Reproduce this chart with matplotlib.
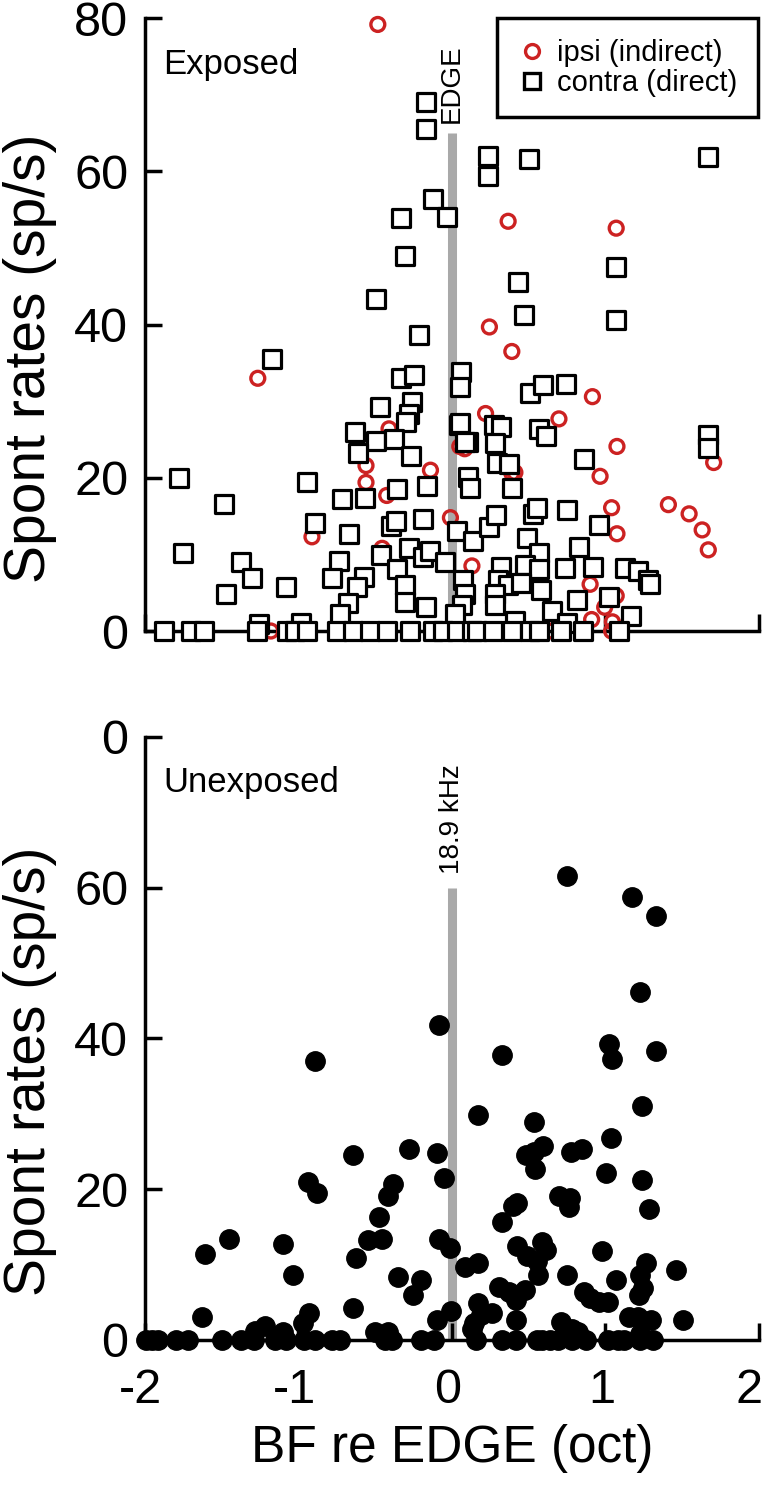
import numpy as np
import matplotlib
matplotlib.use('Agg')
import matplotlib.pyplot as plt
import matplotlib.transforms as mtransforms
from matplotlib.lines import Line2D

plt.rcParams['font.family'] = ['Liberation Sans', 'DejaVu Sans']

RED = '#cc2222'
GRAY = '#a9a9a9'

# ---- Exposed: contra (direct) units, squares
contra_x = [-0.167, -0.167, 0.232, 0.232, 0.502, 1.67, -0.122, -0.035, -0.335, -0.303,
            -0.496, 0.429, 0.468, 1.07, 1.07, -0.212, -1.175, -0.335, -0.245, 0.058,
            0.051, 0.507, 0.595, 0.741, -0.468, -0.26, -0.283, -0.30, -0.63, -0.495,
            -0.38, -0.265, -0.61, 0.044, 0.273, 0.107, 0.322, 0.283, 0.293, 0.371,
            0.566, 0.614, 0.86, 1.67, 1.67, 0.107, 0.117, -0.16, -0.358, 0.39,
            -1.777, -1.487, -0.943, -0.715, -0.567, -0.895, -0.673, -0.399, -0.367, -0.19,
            0.034, 0.138, 0.239, 0.286, 0.527, 0.556, 0.751, 0.955, 0.83, 0.488,
            0.566, 0.478, 0.566, 0.736, 0.92, 1.13, 1.215, 1.275, 1.29, -1.751,
            -1.372, -1.301, -1.475, -1.082, -0.734, -0.779, -0.576, -0.618, -0.676, -0.728,
            -0.464, -0.361, -0.283, -0.309, -0.309, -0.19, -0.167, -0.142, -0.045, 0.075,
            0.088, 0.066, 0.019, 0.322, 0.297, 0.366, 0.449, 0.283, 0.278, 0.41,
            0.58, 0.653, 0.815, 1.025, 1.165, 0.751, -0.985, -1.256, 0.088, 0.051]
contra_y = [69.1, 65.6, 62.0, 59.4, 61.6, 61.9, 56.4, 54.1, 53.9, 49.0,
            43.3, 45.6, 41.3, 47.5, 40.6, 38.7, 35.5, 33.0, 33.4, 33.8,
            31.8, 31.1, 32.1, 32.2, 29.3, 29.9, 28.3, 27.3, 26.0, 24.8,
            25.1, 22.9, 23.2, 26.9, 26.9, 24.7, 26.7, 24.5, 21.9, 21.8,
            26.4, 25.4, 22.4, 25.6, 23.9, 20.1, 18.7, 19.0, 18.5, 18.7,
            20.0, 16.6, 19.4, 17.2, 17.4, 14.1, 12.7, 13.7, 14.3, 14.6,
            13.0, 11.8, 13.6, 15.1, 15.3, 16.0, 15.8, 13.9, 11.0, 12.1,
            10.2, 8.6, 8.1, 8.2, 8.3, 8.2, 7.9, 6.6, 6.1, 10.2,
            9.0, 6.9, 4.8, 5.8, 9.2, 6.9, 7.0, 5.7, 3.7, 2.2,
            9.9, 8.1, 10.8, 6.0, 3.8, 9.7, 3.2, 10.4, 9.0, 6.7,
            4.8, 3.4, 2.2, 8.3, 6.7, 6.0, 6.3, 4.8, 3.4, 1.3,
            5.3, 2.6, 4.0, 4.4, 2.0, 1.1, 1.1, 0.9, 24.7, 27.1]
contra0_x = [-1.874, -1.70, -1.613, -1.272, -1.077, -1.023, -0.947, -0.747, -0.643, -0.534,
             -0.425, -0.274, -0.121, -0.056, 0.03, 0.132, 0.166, 0.27, 0.39, 0.507,
             0.566, 0.71, 0.855, 1.09]

# ---- Exposed: ipsi (indirect) units, circles
ipsi_x = [-0.483, 0.366, 1.07, 0.244, 0.39, -1.265, 0.915, 0.219, 0.697, -0.41,
          0.083, 1.075, 1.705, -0.56, -0.56, -0.14, 0.41, 0.965, -0.425, 1.41,
          1.545, 1.63, 1.67, 1.04, 1.075, -0.01, -0.912, -0.455, 0.13, 0.90,
          1.07, 0.995, 0.91, 1.045, 1.04, 0.65, -1.18, 0.551, 0.051, 0.39]
ipsi_y = [79.2, 53.5, 52.6, 39.7, 36.5, 33.0, 30.6, 28.4, 27.7, 26.4,
          23.8, 24.1, 22.0, 21.6, 19.4, 21.0, 20.7, 20.2, 17.7, 16.5,
          15.3, 13.2, 10.6, 16.1, 12.7, 14.8, 12.3, 10.8, 8.5, 6.1,
          4.6, 3.1, 1.5, 1.2, 0.0, 0.0, 0.0, 6.0, 24.1, 20.6]

# ---- Unexposed units, filled circles
unexp_x = [0.747, 1.171, 1.328, 1.228, -0.084, 1.024, 1.045, 1.328, 0.324, -0.889,
           1.237, 0.170, 0.537, 1.033, -0.283, -0.647, -0.10, 0.481, 0.537, 0.594,
           0.778, 0.844, 0.543, 1.001, -0.052, -0.94, -0.876, -0.383, -0.415, 1.237,
           0.700, 0.772, 0.762, 0.396, 0.427, 1.284, -0.473, 0.324, -1.452, -1.607,
           -1.101, -0.544, -0.457, -0.084, -0.013, 0.427, 0.489, 0.553, 0.584, 0.615,
           0.976, -0.625, 0.088, 0.167, 1.266, 1.457, -1.033, -0.354, -0.20, 0.559,
           0.750, 1.228, 1.071, 1.243, 0.308, 0.477, 0.860, 0.898, 0.955, 1.017,
           1.218, 0.371, 0.417, -0.254, -0.647, 0.167, -0.006, 0.263, 0.191, -0.93,
           -1.629, 0.417, -0.10, 0.144, 0.710, 1.155, 1.212, 1.300, 1.503, -0.972,
           -1.22, -1.285, -1.101, -0.502, -0.415, 0.129, 0.782, 1.228, 0.819]
unexp_y = [61.6, 58.8, 56.3, 46.1, 41.8, 39.3, 37.3, 38.4, 37.8, 37.0,
           31.1, 29.9, 28.9, 26.8, 25.3, 24.5, 24.8, 24.5, 25.0, 25.7,
           24.9, 25.3, 22.7, 22.2, 21.5, 20.9, 19.5, 20.7, 19.1, 21.2,
           19.1, 18.8, 17.6, 17.8, 18.2, 17.4, 16.3, 15.6, 13.4, 11.4,
           12.7, 13.2, 13.4, 13.4, 12.2, 12.5, 11.2, 10.5, 13.0, 12.0,
           11.8, 10.9, 9.7, 10.2, 10.2, 9.3, 8.6, 8.4, 7.9, 8.6,
           8.6, 8.6, 7.9, 6.9, 7.0, 6.6, 6.4, 5.6, 5.1, 5.1,
           5.9, 6.3, 5.3, 5.9, 4.3, 4.9, 3.8, 3.6, 3.3, 3.6,
           3.0, 2.6, 2.6, 2.3, 2.4, 3.1, 3.1, 2.6, 2.6, 2.3,
           1.8, 1.2, 1.0, 1.0, 1.0, 1.4, 1.4, 0.8, 1.0]
unexp0_x = [-1.993, -1.951, -1.912, -1.80, -1.719, -1.50, -1.372, -1.291, -1.156, -1.082,
            -0.963, -0.889, -0.779, -0.728, -0.438, -0.39, -0.20, -0.116, 0.154, 0.324,
            0.417, 0.553, 0.584, 0.641, 0.694, 0.782, 0.873, 1.017, 1.080, 1.124,
            1.228, 1.312]

xticks = [-2, -1, 0, 1, 2]
xticklabels = ['-2', '-1', '0', '1', '2']
yticks = [0, 20, 40, 60, 80]
top_yticklabels = ['0', '20', '40', '60', '80']
bot_yticklabels = ['0', '20', '40', '60', '0']

fig = plt.figure(figsize=(7.67, 14.9), dpi=100)
ax1 = fig.add_axes([0.189, 0.5765, 0.8005, 0.4112])
ax2 = fig.add_axes([0.189, 0.1007, 0.8005, 0.4047])


def style(ax):
    for s in ['top', 'right']:
        ax.spines[s].set_visible(False)
    for s in ['left', 'bottom']:
        ax.spines[s].set_linewidth(2.5)
    ax.set_xlim(-2, 2)
    ax.set_ylim(0, 80)
    ax.set_xticks(xticks)
    ax.set_yticks(yticks)
    ax.tick_params(direction='in', length=12.5, width=2.5, labelsize=35, pad=12)
    ax.tick_params(axis='x', pad=20)
    ax.set_ylabel('Spont rates (sp/s)', fontsize=41)
    ax.yaxis.set_label_coords(-0.143, 0.445)


style(ax1)
ax1.set_xticklabels([])
ax1.set_yticklabels(top_yticklabels)
ax1.plot([0, 0], [0, 65], color=GRAY, lw=6.5, solid_capstyle='butt', zorder=1)
ax1.text(0.0, 66.3, 'EDGE', rotation=90, ha='center', va='bottom', fontsize=20)
ax1.text(-1.88, 72.7, 'Exposed', ha='left', va='baseline', fontsize=25)
ax1.scatter(ipsi_x, ipsi_y, s=100, marker='o', facecolors='none', edgecolors=RED,
            linewidths=2.4, clip_on=False, zorder=3)
ax1.scatter(contra_x, contra_y, s=165, marker='s', facecolors='white', edgecolors='black',
            linewidths=2.3, clip_on=False, zorder=4)
ax1.scatter(contra0_x, np.zeros(len(contra0_x)), s=165, marker='s', facecolors='white',
            edgecolors='black', linewidths=2.3, clip_on=False, zorder=4)

handles = [Line2D([], [], ls='none', marker='o', ms=10, mfc='none', mec=RED, mew=2.4),
           Line2D([], [], ls='none', marker='s', ms=11, mfc='white', mec='black', mew=2.4)]
leg = ax1.legend(handles, ['ipsi (indirect)', 'contra (direct)'], loc='upper right',
                 bbox_to_anchor=(0.998, 1.0), fontsize=21, frameon=True, fancybox=False,
                 edgecolor='black', framealpha=1, handletextpad=0.35, borderpad=0.7,
                 labelspacing=0.08, handlelength=1.0, borderaxespad=0)
leg.get_frame().set_linewidth(2.5)
leg.set_zorder(10)

style(ax2)
ax2.set_xticklabels(xticklabels)
ax2.set_yticklabels(bot_yticklabels)
ax2.plot([0, 0], [0, 60], color=GRAY, lw=6.5, solid_capstyle='butt', zorder=1)
ax2.text(0.0, 61.8, '18.9 kHz', rotation=90, ha='center', va='bottom', fontsize=20)
ax2.text(-1.88, 72.7, 'Unexposed', ha='left', va='baseline', fontsize=25)
ax2.scatter(unexp_x, unexp_y, s=195, marker='o', color='black', clip_on=False, zorder=3)
ax2.scatter(unexp0_x, np.zeros(len(unexp0_x)), s=195, marker='o', color='black',
            clip_on=False, zorder=3)
ax2.set_xlabel('BF re EDGE (oct)', fontsize=37, labelpad=8)

# nudge x tick labels a little left, as in the original, so "2" stays inside
shift = mtransforms.ScaledTranslation(-4 / 100, 0, fig.dpi_scale_trans)
for lab in ax2.get_xticklabels():
    lab.set_transform(lab.get_transform() + shift)
last = ax2.get_xticklabels()[-1]
last.set_transform(last.get_transform() + mtransforms.ScaledTranslation(-6 / 100, 0, fig.dpi_scale_trans))

plt.savefig('out.png', format='png', dpi=100)
